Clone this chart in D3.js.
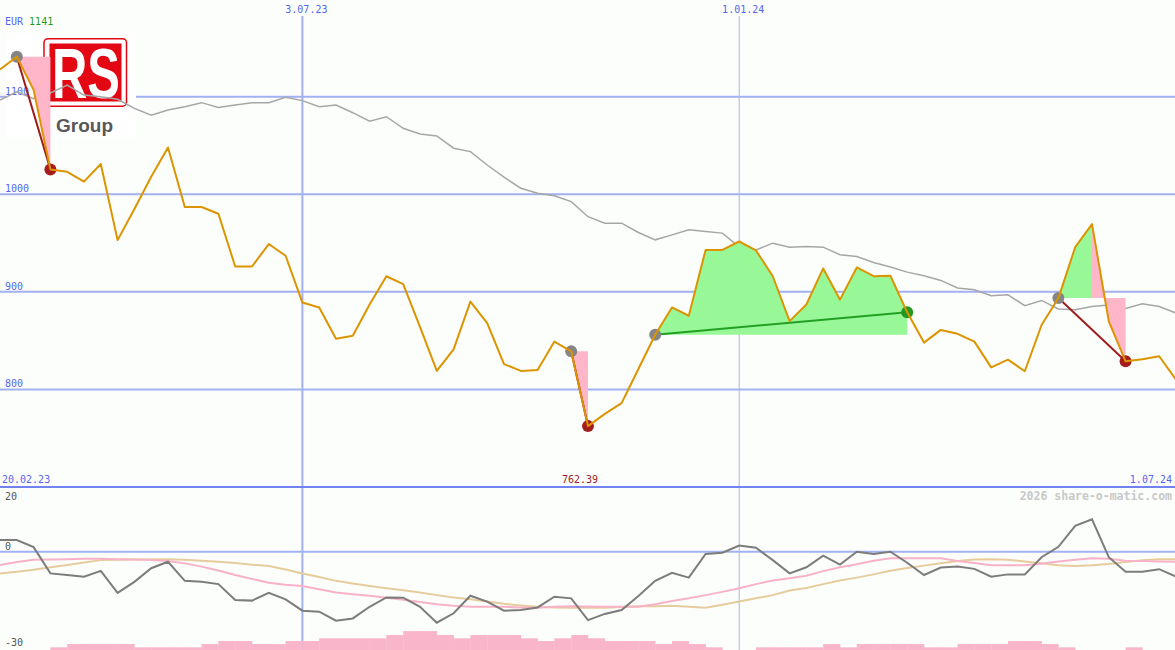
<!DOCTYPE html>
<html><head><meta charset="utf-8">
<script src="https://cdn.jsdelivr.net/npm/d3@7"></script>
<style>html,body{margin:0;padding:0;background:#fcfefc;overflow:hidden}</style>
</head><body><svg id="c" width="1175" height="650"></svg>
<script>
// ---- data (weekly, Mondays from 27.02.23 to 1.07.24) ----
const price = [1128,1141,1107,1025.5,1023,1013,1031,953,985,1018,1048,987,987,980,926,926,949,937,889,884,852,855,887,916,908,864,819,841,890,868,826,819,820,849,839,762.39,775,786,821,856,884,875.5,943,943,951.6,942.4,916,870,887,924,892,925,916,916.5,879,848,861,857,849,822.6,830.5,818.6,866,893.6,945.8,969.4,869.7,828.8,831,834,810];
const average = [1096.6,1105,1098,1103.8,1112,1101.7,1100,1097.3,1088,1081,1086.4,1089.8,1093.9,1089,1091.5,1093.9,1093.9,1099.4,1096,1089.8,1091.5,1083.6,1074.8,1079.5,1067.6,1061.8,1059.8,1047.2,1043.7,1030,1017.5,1006.2,1001,998.4,992.5,977,970.4,970.4,960.8,953.3,958.4,963.6,961.9,960.2,945.8,943,949.9,945.8,946.5,945.8,938,936.2,930,925.4,920.2,916.5,911.7,903.9,902.2,896,897,885.8,891.2,882.4,881.7,885,886.5,883,887.8,885,878.3];
const momentum = [3.6,3.6,1.4,-6.7,-7.2,-7.7,-5.9,-12.7,-9.3,-5.1,-3.1,-9.0,-9.3,-10.0,-14.9,-15.1,-12.7,-14.7,-18.2,-18.5,-21.3,-20.6,-17.0,-14.1,-14.2,-17.0,-21.9,-19.0,-13.6,-15.4,-18.2,-18.0,-17.2,-13.9,-14.4,-21.1,-19.2,-18.0,-13.7,-9.0,-6.5,-8.0,-0.7,-0.3,1.9,1.2,-2.6,-6.7,-4.8,-1.2,-4.0,0,-0.7,0,-3.4,-7.2,-4.9,-4.6,-5.3,-7.7,-7.0,-7.0,-1.7,1.5,8.0,10.0,-1.7,-6.2,-6.2,-5.4,-7.7];
const momentumFast = [-4.1,-3.2,-2.5,-2.4,-2.3,-2.2,-2.2,-2.3,-2.4,-2.6,-2.9,-3.6,-4.6,-5.8,-7.2,-8.4,-9.6,-10.2,-10.6,-11.6,-12.6,-13.1,-13.6,-14.2,-14.8,-15.5,-16.2,-16.7,-17.0,-17.0,-17.0,-17.2,-17.3,-17.0,-16.8,-16.9,-17.0,-17.0,-17.0,-16.2,-15.2,-14.4,-13.4,-12.4,-11.3,-10.0,-8.9,-8.2,-7.4,-6.0,-4.8,-3.9,-2.8,-2.0,-2.0,-2.0,-2.0,-2.9,-3.5,-4.2,-4.2,-4.2,-3.7,-3.0,-2.5,-2.0,-2.2,-2.8,-2.9,-3.0,-3.1];
const momentumSlow = [-6.7,-6.2,-5.6,-4.8,-4.1,-3.3,-2.6,-2.5,-2.4,-2.3,-2.3,-2.5,-2.8,-3.1,-3.5,-4.0,-4.4,-5.5,-6.7,-7.8,-9.0,-9.8,-10.6,-11.3,-11.9,-12.6,-13.4,-14.1,-14.7,-15.4,-16.1,-16.6,-17.0,-17.2,-17.3,-17.3,-17.3,-17.1,-16.8,-16.8,-16.7,-17.0,-17.3,-16.4,-15.4,-14.4,-13.4,-12.0,-11.2,-10.0,-8.9,-8.0,-7.0,-5.9,-5.0,-4.3,-3.6,-2.9,-2.4,-2.3,-2.5,-3.0,-3.6,-4.2,-4.4,-4.2,-3.8,-3.2,-2.6,-2.3,-2.3];
const volume = [0,0,0,0.9,2,2,2,2,0.9,0.9,0.9,0.9,2,3,3,2,2,3,3,3.9,3.9,3.9,3.9,5,6.3,6.3,5,3.9,5,5,5,3.9,3,3.9,5,3.9,3,3,3,2,3,2,0.9,0,0,0.9,0.9,0.9,0.9,2,0.9,2,2,2,2,0.9,0.9,2,2,2,3,3,2,0.9,0,0,0,0.9,0,0];
const priceTicks = [800,900,1000,1100];
const dateTicks = ["2023-07-03","2024-01-01"];
const dateTickLabels = ["3.07.23","1.01.24"];
const firstLabel = "20.02.23", lastLabel = "1.07.24";
const lowerTicks = [20,0,-30];
const signalStart = [1,34,39,63];
const signalPeak  = [1,34,54,65];
const signalEnd   = [3,35,54,67];
const signalGain  = [false,false,true,false];

const dates = d3.utcMonday.range(new Date(Date.UTC(2023,1,27)), new Date(Date.UTC(2024,6,2)));

const svg = d3.select("#c");
const W = 1175;
const x = d3.scaleUtc().domain([new Date(Date.UTC(2023,1,27)), new Date(Date.UTC(2024,6,1))]).range([0,1176]);
const y = d3.scaleLinear().domain([700,1100]).range([487,96.7]);
const yl = d3.scaleLinear().domain([-30,20]).range([648.9,486.9]);
const yv = d3.scaleLinear().domain([0,10]).range([650,620]);
const X = i => x(dates[i]);
const mono = "DejaVu Sans Mono, monospace";
const gridC = "#a2b1f1";

svg.append("rect").attr("width",W).attr("height",650).attr("fill","#fcfefc");

// horizontal price grid
svg.append("g").selectAll("line").data(priceTicks).join("line")
  .attr("x1",0).attr("x2",W).attr("y1",d=>y(d)).attr("y2",d=>y(d))
  .attr("stroke",gridC).attr("stroke-width",2);
// lower zero line
svg.append("line").attr("x1",0).attr("x2",W).attr("y1",yl(0)).attr("y2",yl(0))
  .attr("stroke",gridC).attr("stroke-width",2);
// vertical date grid
svg.append("g").selectAll("line").data(dateTicks).join("line")
  .attr("x1",d=>x(new Date(d))).attr("x2",d=>x(new Date(d)))
  .attr("y1",16).attr("y2",650)
  .attr("stroke",(d,i)=>i===0?gridC:"#aab5e6").attr("stroke-width",(d,i)=>i===0?2:1);
// divider
svg.append("line").attr("x1",0).attr("x2",W).attr("y1",487).attr("y2",487)
  .attr("stroke","#7282f0").attr("stroke-width",2);

// logo
svg.append("rect").attr("x",6).attr("y",33).attr("width",130).attr("height",104).attr("fill","#ffffff");
svg.append("rect").attr("x",44).attr("y",38.7).attr("width",82.5).attr("height",67.5).attr("rx",4)
  .attr("fill","#fff").attr("stroke","#e30613").attr("stroke-width",1.5);
svg.append("rect").attr("x",49.5).attr("y",43.5).attr("width",72).attr("height",58).attr("fill","#e30613");
svg.append("text").attr("transform","translate(52,98) scale(1,1.1)")
  .attr("font-family","Liberation Sans, Arial, sans-serif")
  .attr("font-weight","bold").attr("font-size",64).attr("fill","#fff")
  .attr("textLength",68).attr("lengthAdjust","spacingAndGlyphs").text("RS");
svg.append("text").attr("x",56).attr("y",131.5).attr("font-family","Liberation Sans, Arial, sans-serif")
  .attr("font-weight","bold").attr("font-size",18).attr("fill","#585858")
  .attr("textLength",57).attr("lengthAdjust","spacingAndGlyphs").text("Group");

// price axis labels
svg.append("g").selectAll("text").data(priceTicks).join("text")
  .attr("x",5).attr("y",d=>y(d)-2).attr("font-family",mono).attr("font-size",10)
  .attr("fill","#5566ee").text(d=>d);

// moving average
svg.append("path").datum(d3.range(average.length))
  .attr("d",d3.line().x(X).y(i=>y(average[i])))
  .attr("fill","none").attr("stroke","#a6a6a6").attr("stroke-width",1.5);

// signal fills
signalStart.forEach((s,k)=>{
  const level = price[s];
  const area = d3.area().x(X).y0(y(level)).y1(i=>y(price[i]));
  if (signalPeak[k] > s)
    svg.append("path").datum(d3.range(s, signalPeak[k]+1)).attr("d",area).attr("fill","#98f898");
  if (signalEnd[k] > signalPeak[k])
    svg.append("path").datum(d3.range(signalPeak[k], signalEnd[k]+1)).attr("d",area).attr("fill","#ffb6c8");
});
// signal lines & dots
signalStart.forEach((s,k)=>{
  const e = signalEnd[k], c = signalGain[k] ? "#22a022" : "#a01c1c";
  svg.append("line").attr("x1",X(s)).attr("y1",y(price[s])).attr("x2",X(e)).attr("y2",y(price[e]))
    .attr("stroke",c).attr("stroke-width",2);
  svg.append("circle").attr("cx",X(s)).attr("cy",y(price[s])).attr("r",6).attr("fill","#858585");
  svg.append("circle").attr("cx",X(e)).attr("cy",y(price[e])).attr("r",6).attr("fill",signalGain[k]?"#229922":"#a51e1e");
});

// price line
svg.append("path").datum(d3.range(price.length))
  .attr("d",d3.line().x(X).y(i=>y(price[i])))
  .attr("fill","none").attr("stroke","#dc9400").attr("stroke-width",2).attr("stroke-linejoin","round");

// top labels
svg.append("g").selectAll("text").data(dateTicks).join("text")
  .attr("x",d=>x(new Date(d))+4).attr("y",12.5).attr("text-anchor","middle")
  .attr("font-family",mono).attr("font-size",10).attr("fill","#5566ee")
  .text((d,i)=>dateTickLabels[i]);
const t = svg.append("text").attr("x",5).attr("y",25).attr("font-family",mono).attr("font-size",10);
t.append("tspan").attr("fill","#5566ee").text("EUR ");
t.append("tspan").attr("fill","#1f9a1f").text(d3.max(price));

// bottom labels of main chart
svg.append("text").attr("x",2).attr("y",483).attr("font-family",mono).attr("font-size",10).attr("fill","#5566ee").text(firstLabel);
svg.append("text").attr("x",1172).attr("y",483).attr("text-anchor","end").attr("font-family",mono).attr("font-size",10).attr("fill","#5566ee").text(lastLabel);
const minI = d3.minIndex(price);
svg.append("text").attr("x",X(minI)-8).attr("y",483).attr("text-anchor","middle").attr("font-family",mono).attr("font-size",10).attr("fill","#a01c1c").text(price[minI].toFixed(2));
svg.append("text").attr("x",1172).attr("y",500).attr("text-anchor","end").attr("font-family",mono).attr("font-weight","bold").attr("font-size",11.5).attr("fill","#c8c8c8").text("2026 share-o-matic.com");

// lower panel
svg.append("g").selectAll("rect").data(volume).join("rect")
  .attr("x",(d,i)=>X(i)).attr("width",(d,i)=>X(i+1)-X(i)+0.3)
  .attr("y",d=>yv(d)).attr("height",d=>650-yv(d)).attr("fill","#f9b5c9");
const ll = arr => d3.line().x(X).y(i=>yl(arr[i]));
svg.append("path").datum(d3.range(momentumSlow.length)).attr("d",ll(momentumSlow))
  .attr("fill","none").attr("stroke","#e6cc9c").attr("stroke-width",2);
svg.append("path").datum(d3.range(momentumFast.length)).attr("d",ll(momentumFast))
  .attr("fill","none").attr("stroke","#f8b2c8").attr("stroke-width",2);
svg.append("path").datum(d3.range(momentum.length)).attr("d",ll(momentum))
  .attr("fill","none").attr("stroke","#7c7c7c").attr("stroke-width",2);
const lyPos = {20:499.5, 0:549.5, "-30":646};
svg.append("g").selectAll("text").data(lowerTicks).join("text")
  .attr("x",5).attr("y",d=>lyPos[d]).attr("font-family",mono).attr("font-size",10)
  .attr("fill","#555").text(d=>d);
</script></body></html>
